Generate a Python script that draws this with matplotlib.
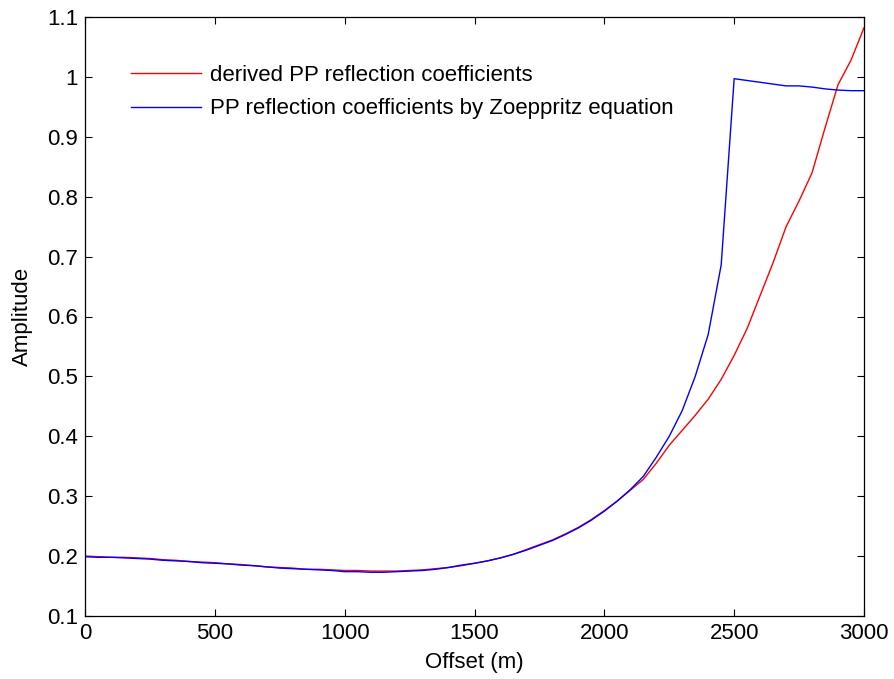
import matplotlib
matplotlib.use("Agg")
import matplotlib.pyplot as plt
import numpy as np

plt.rcParams['font.family'] = ['Liberation Sans', 'DejaVu Sans']

offset = list(range(0, 3001, 50))

zoeppritz = [0.199, 0.198, 0.198, 0.197, 0.196, 0.195, 0.193, 0.192, 0.191, 0.189,
             0.188, 0.187, 0.185, 0.184, 0.182, 0.180, 0.179, 0.178, 0.177, 0.176,
             0.174, 0.174, 0.173, 0.173, 0.174, 0.175, 0.176, 0.178, 0.181, 0.185,
             0.188, 0.192, 0.197, 0.203, 0.210, 0.218, 0.226, 0.236, 0.247, 0.260,
             0.275, 0.292, 0.311, 0.333, 0.365, 0.400, 0.443, 0.500, 0.570, 0.686,
             0.997, 0.994, 0.991, 0.988, 0.985, 0.985, 0.983, 0.980, 0.978, 0.977,
             0.977]

derived = [0.200, 0.199, 0.198, 0.198, 0.197, 0.196, 0.194, 0.193, 0.191, 0.190,
           0.189, 0.187, 0.186, 0.184, 0.182, 0.181, 0.180, 0.178, 0.178, 0.177,
           0.176, 0.176, 0.175, 0.175, 0.175, 0.176, 0.177, 0.179, 0.181, 0.184,
           0.188, 0.192, 0.197, 0.203, 0.211, 0.219, 0.227, 0.237, 0.248, 0.261,
           0.276, 0.292, 0.310, 0.328, 0.355, 0.385, 0.410, 0.435, 0.462, 0.495,
           0.535, 0.580, 0.635, 0.690, 0.750, 0.793, 0.840, 0.915, 0.987, 1.028,
           1.082]

xticks = [0, 500, 1000, 1500, 2000, 2500, 3000]
yticks = [0.1, 0.2, 0.3, 0.4, 0.5, 0.6, 0.7, 0.8, 0.9, 1.0, 1.1]
ytick_labels = ['0.1', '0.2', '0.3', '0.4', '0.5', '0.6', '0.7', '0.8', '0.9', '1', '1.1']

fig = plt.figure(figsize=(8.94, 6.79), dpi=100)
ax = fig.add_axes([85/894, (679-616)/679, (864-85)/894, (616-17)/679])

ax.plot(offset, derived, color='#ff0000', lw=1.0, label='derived PP reflection coefficients')
ax.plot(offset, zoeppritz, color='#0000ff', lw=1.0, label='PP reflection coefficients by Zoeppritz equation')

ax.set_xlim(0, 3000)
ax.set_ylim(0.1, 1.1)
ax.set_xticks(xticks)
ax.set_xticklabels([str(t) for t in xticks])
ax.set_yticks(yticks)
ax.set_yticklabels(ytick_labels)
ax.tick_params(direction='in', length=5, width=0.8, top=True, right=True, labelsize=16, pad=5)
for s in ax.spines.values():
    s.set_linewidth(0.9)

ax.set_xlabel('Offset (m)', fontsize=16, labelpad=6)
ax.set_ylabel('Amplitude', fontsize=16, labelpad=10)

ax.legend(loc='upper left', bbox_to_anchor=(0.034, 0.953), frameon=False, fontsize=16,
          handlelength=3.15, handletextpad=0.4, labelspacing=0.55)

fig.savefig('out.png', dpi=100)
